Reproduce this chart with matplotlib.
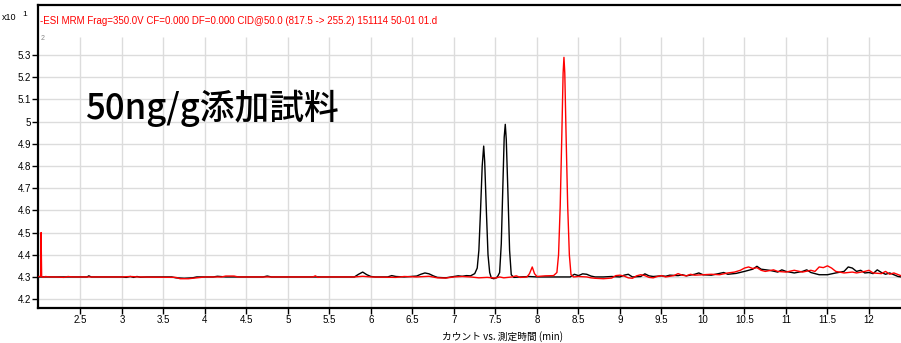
import matplotlib
matplotlib.use("Agg")
import matplotlib.pyplot as plt

plt.rcParams['font.family'] = ['Liberation Sans', 'Noto Sans CJK JP', 'DejaVu Sans']

# ---- data ----
black_t = [2.00, 2.30, 2.58, 2.60, 2.63, 3.00, 3.05, 3.10, 3.14, 3.18, 3.22, 3.30, 3.60, 3.65, 3.75, 3.85,
           3.90, 4.10, 4.15, 4.25, 4.70, 4.75, 4.80, 5.30, 5.80, 5.85, 5.90, 5.95, 6.00, 6.05, 6.20, 6.25,
           6.30, 6.40, 6.55, 6.60, 6.65, 6.70, 6.75, 6.80, 6.90, 7.00, 7.05, 7.10, 7.15, 7.20, 7.25, 7.28,
           7.30, 7.32, 7.34, 7.358, 7.37, 7.39, 7.41, 7.43, 7.45, 7.48, 7.51, 7.53, 7.55, 7.57, 7.59, 7.605,
           7.618, 7.63, 7.65, 7.67, 7.69, 7.72, 7.80, 7.90, 8.00, 8.20, 8.40, 8.45, 8.50, 8.55, 8.60, 8.65,
           8.70, 8.80, 8.90, 9.00, 9.05, 9.10, 9.15, 9.25, 9.30, 9.35, 9.40, 9.50, 9.55, 9.60, 9.70, 9.75,
           9.80, 9.90, 9.95, 10.00, 10.10, 10.20, 10.25, 10.30, 10.40, 10.50, 10.60, 10.65, 10.70, 10.80,
           10.90, 10.95, 11.00, 11.10, 11.20, 11.25, 11.30, 11.40, 11.50, 11.60, 11.70, 11.75, 11.80, 11.85,
           11.90, 11.95, 12.00, 12.05, 12.10, 12.15, 12.20, 12.25, 12.30, 12.35, 12.39]
black_y = [4.300, 4.300, 4.300, 4.305, 4.300, 4.300, 4.298, 4.302, 4.298, 4.302, 4.299, 4.300, 4.300, 4.296,
           4.294, 4.296, 4.300, 4.300, 4.303, 4.300, 4.300, 4.304, 4.300, 4.300, 4.300, 4.312, 4.322, 4.310,
           4.302, 4.300, 4.300, 4.306, 4.302, 4.300, 4.304, 4.312, 4.318, 4.314, 4.305, 4.298, 4.296, 4.302,
           4.305, 4.303, 4.306, 4.305, 4.315, 4.340, 4.420, 4.600, 4.800, 4.890, 4.820, 4.600, 4.400, 4.320,
           4.295, 4.292, 4.296, 4.305, 4.320, 4.450, 4.720, 4.930, 4.988, 4.920, 4.680, 4.420, 4.310, 4.298,
           4.300, 4.302, 4.300, 4.300, 4.300, 4.312, 4.306, 4.314, 4.312, 4.304, 4.300, 4.300, 4.302, 4.300,
           4.308, 4.312, 4.300, 4.302, 4.314, 4.305, 4.302, 4.305, 4.303, 4.308, 4.306, 4.310, 4.305, 4.312,
           4.318, 4.310, 4.308, 4.316, 4.320, 4.312, 4.316, 4.325, 4.335, 4.348, 4.335, 4.330, 4.322, 4.332,
           4.325, 4.318, 4.325, 4.332, 4.320, 4.310, 4.310, 4.318, 4.325, 4.345, 4.340, 4.325, 4.330, 4.318,
           4.320, 4.315, 4.332, 4.320, 4.312, 4.318, 4.310, 4.302, 4.300]

red_t = [2.00, 2.02, 2.025, 2.032, 2.05, 2.08, 2.12, 2.20, 2.30, 2.35, 2.40, 3.00, 3.10, 3.20, 3.65, 3.70,
         3.80, 3.90, 4.00, 4.20, 4.25, 4.35, 4.40, 4.80, 5.30, 5.33, 5.36, 5.40, 5.80, 5.90, 6.00, 6.30,
         6.40, 6.55, 6.70, 6.80, 6.90, 7.00, 7.10, 7.20, 7.30, 7.40, 7.50, 7.55, 7.60, 7.70, 7.75, 7.80,
         7.88, 7.91, 7.943, 7.97, 8.00, 8.10, 8.20, 8.24, 8.26, 8.28, 8.30, 8.315, 8.325, 8.335, 8.35, 8.37,
         8.39, 8.41, 8.44, 8.50, 8.60, 8.65, 8.70, 8.80, 8.90, 8.95, 9.00, 9.05, 9.10, 9.15, 9.20, 9.25,
         9.30, 9.35, 9.40, 9.45, 9.50, 9.55, 9.65, 9.70, 9.75, 9.80, 9.85, 9.90, 10.00, 10.10, 10.20, 10.30,
         10.38, 10.45, 10.50, 10.55, 10.60, 10.65, 10.70, 10.75, 10.85, 10.90, 11.00, 11.10, 11.20, 11.30,
         11.35, 11.40, 11.45, 11.50, 11.55, 11.60, 11.70, 11.80, 11.85, 11.95, 12.00, 12.05, 12.15, 12.20,
         12.25, 12.30, 12.39]
red_y = [4.302, 4.302, 4.500, 4.302, 4.298, 4.302, 4.300, 4.300, 4.298, 4.302, 4.300, 4.300, 4.302, 4.300,
         4.298, 4.292, 4.292, 4.296, 4.300, 4.300, 4.304, 4.304, 4.300, 4.300, 4.300, 4.305, 4.298, 4.300,
         4.300, 4.303, 4.300, 4.298, 4.302, 4.300, 4.303, 4.296, 4.295, 4.300, 4.302, 4.300, 4.296, 4.298,
         4.295, 4.300, 4.296, 4.300, 4.305, 4.298, 4.300, 4.315, 4.345, 4.315, 4.302, 4.305, 4.306, 4.320,
         4.400, 4.620, 4.950, 5.220, 5.290, 5.220, 4.950, 4.620, 4.400, 4.310, 4.300, 4.302, 4.300, 4.296,
         4.294, 4.292, 4.295, 4.306, 4.308, 4.304, 4.296, 4.294, 4.305, 4.310, 4.306, 4.298, 4.296, 4.302,
         4.306, 4.300, 4.306, 4.315, 4.308, 4.305, 4.312, 4.308, 4.310, 4.312, 4.310, 4.318, 4.322, 4.330,
         4.340, 4.345, 4.338, 4.342, 4.330, 4.325, 4.332, 4.325, 4.322, 4.330, 4.322, 4.330, 4.325, 4.345,
         4.342, 4.350, 4.340, 4.325, 4.318, 4.322, 4.318, 4.325, 4.330, 4.318, 4.315, 4.325, 4.312, 4.318,
         4.305]

x_ticks = [2.5, 3, 3.5, 4, 4.5, 5, 5.5, 6, 6.5, 7, 7.5, 8, 8.5, 9, 9.5, 10, 10.5, 11, 11.5, 12]
x_tick_labels = ['2.5', '3', '3.5', '4', '4.5', '5', '5.5', '6', '6.5', '7', '7.5', '8', '8.5', '9',
                 '9.5', '10', '10.5', '11', '11.5', '12']
y_ticks = [4.2, 4.3, 4.4, 4.5, 4.6, 4.7, 4.8, 4.9, 5.0, 5.1, 5.2, 5.3]
y_tick_labels = ['4.2', '4.3', '4.4', '4.5', '4.6', '4.7', '4.8', '4.9', '5', '5.1', '5.2', '5.3']

title_text = "-ESI MRM Frag=350.0V CF=0.000 DF=0.000 CID@50.0 (817.5 -> 255.2) 151114 50-01 01.d"
sample_text = "50ng/g添加試料"
x_label = "カウント vs. 測定時間 (min)"

# ---- figure ----
W, H = 901, 343
fig = plt.figure(figsize=(W / 100, H / 100), dpi=100)
ax = fig.add_axes([38 / W, (H - 308) / H, (W - 38) / W, (308 - 5) / H])

xmin, xmax = 1.988, 12.386
ymin, ymax = 4.16, 5.526
ax.set_xlim(xmin, xmax)
ax.set_ylim(ymin, ymax)

grid_c = '#dcdcdc'
ax.hlines(y_ticks, xmin, xmax, colors=grid_c, linewidth=1.0, zorder=0)
ax.vlines(x_ticks, ymin, 5.381, colors=grid_c, linewidth=1.0, zorder=0)

ax.plot(black_t, black_y, color='black', linewidth=1.0, zorder=2)
ax.plot(red_t, red_y, color='#ff0000', linewidth=1.0, zorder=3)

ax.set_xticks(x_ticks)
ax.set_xticklabels(x_tick_labels, fontsize=7)
ax.set_yticks(y_ticks)
ax.set_yticklabels(y_tick_labels, fontsize=7)
ax.tick_params(axis='x', direction='out', length=4, width=1, pad=1, colors='black')
ax.tick_params(axis='y', direction='out', length=4, width=1, pad=1, colors='black')

for s in ['left', 'bottom', 'top']:
    ax.spines[s].set_linewidth(1.6)
    ax.spines[s].set_color('black')
ax.spines['right'].set_visible(False)

fig.text(40 / W, (H - 21) / H, title_text, color='#ff0000',
         fontsize=7, ha='left', va='center', family=['Liberation Sans', 'DejaVu Sans'])
fig.text(41 / W, (H - 39) / H, "2", color='#888888', fontsize=5, ha='left', va='center')

fig.text(2 / W, (H - 17) / H, "x10", fontsize=6.5, ha='left', va='center')
fig.text(25 / W, (H - 14) / H, "1", fontsize=6, ha='center', va='center')

fig.text(85 / W, (H - 108) / H, sample_text, fontsize=25, ha='left', va='center',
         family=['Noto Sans CJK JP', 'DejaVu Sans'], weight='medium')

fig.text(502 / W, (H - 337) / H, x_label, fontsize=7, ha='center', va='center',
         family=['Noto Sans CJK JP', 'DejaVu Sans'])

fig.savefig('out.png', dpi=100)
